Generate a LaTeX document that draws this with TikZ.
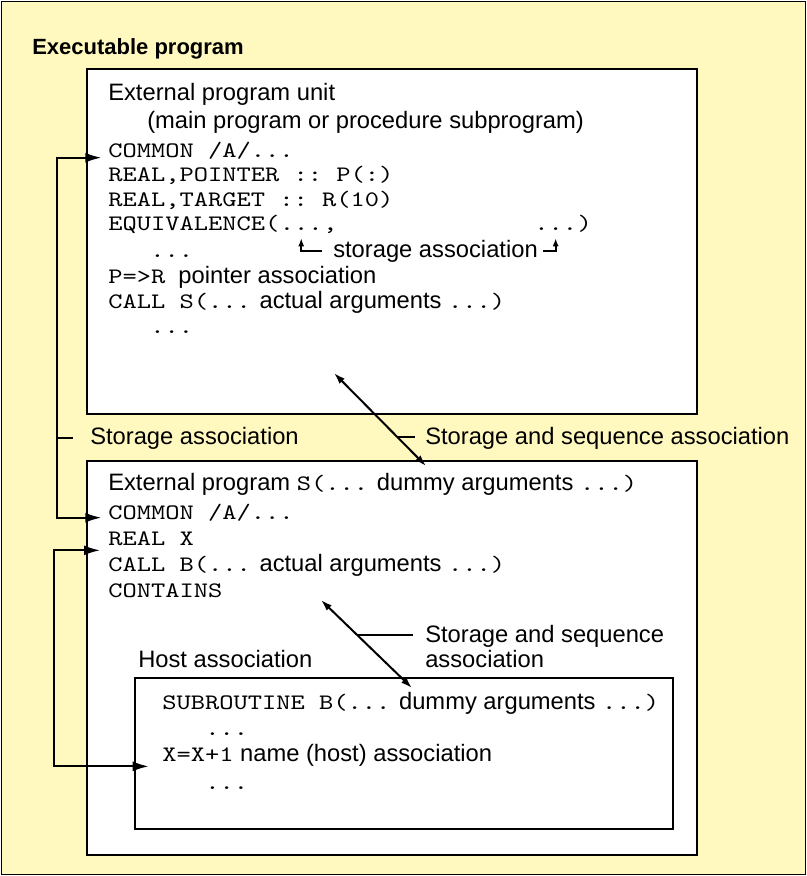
\documentclass[tikz,border=0pt]{standalone}
\usepackage{fontspec}
\setmainfont{Liberation Sans}
\setmonofont{lmmono10-regular}[Extension=.otf,Scale=0.93,FakeStretch=1.23]
\usetikzlibrary{positioning,arrows.meta}
\definecolor{paleyellow}{RGB}{255,249,191}

\begin{document}
\begin{tikzpicture}[
		x=0.75pt,y=-0.75pt,
		font=\fontsize{17.8}{19}\selectfont,
		txt/.style={anchor=base west,inner sep=0pt},
		unitbox/.style={draw,line width=0.8pt,fill=white},
		link/.style={line width=1.5pt},
		big/.tip={Latex[length=12pt,width=7.5pt]},
		mid/.tip={Latex[length=8.5pt,width=5.5pt]},
		small/.tip={Latex[length=6pt,width=4.5pt]}
		]
		\useasboundingbox (0,0) rectangle (807,876);
		\draw[line width=1.1pt,fill=paleyellow] (1.5,1.5) rectangle (805.5,874.5);
		\node[txt,font=\fontsize{16.5}{19}\selectfont\bfseries] (title) at (32,54) {Executable program};
		
		% external program unit
		\draw[unitbox] (87,69) rectangle (697,414);
		\node[txt] (ext) at (108,100) {External program unit};
		\node[txt] (main) at (147,128) {(main program or procedure subprogram)};
		\node[txt] (com1) at (108,157) {\texttt{COMMON /A/...}};
		\node[txt] (ptr) at (108,181) {\texttt{REAL,POINTER :: P(:)}};
		\node[txt] (tgt) at (108,206) {\texttt{REAL,TARGET :: R(10)}};
		\node[txt] (eqv) at (108,230) {\texttt{EQUIVALENCE(}};
		\node[txt,right=0pt of eqv.base east,anchor=base west] (eqa) {\texttt{...}};
		\node[txt,right=0pt of eqa.base east,anchor=base west] (eqcomma) {\texttt{,}};
		\node[txt] (eqb) at (534,230) {\texttt{...}};
		\node[txt,right=0pt of eqb.base east,anchor=base west] (eqclose) {\texttt{)}};
		\node[txt] (dots1) at (150,257) {\texttt{...}};
		\node[txt] (stor) at (333,257) {storage association};
		\node[txt] (pr) at (108,283) {\texttt{P=>R} \ pointer association};
		\node[txt] (calls) at (108,308) {\texttt{CALL S(...} actual arguments \texttt{...)}};
		\node[txt] (dots2) at (150,333) {\texttt{...}};
		\draw[link,-small,shorten <=8pt,shorten >=6pt] (stor.west) -| (eqa.south);
		\draw[link,-small,shorten <=4pt,shorten >=6pt] (stor.east) -| (eqb.south);
		
		% external subprogram S
		\draw[unitbox] (87,461) rectangle (697,855);
		\node[txt] (exts) at (108,490) {External program \texttt{S(...} dummy arguments \texttt{...)}};
		\node[txt] (com2) at (108,519) {\texttt{COMMON /A/...}};
		\node[txt] (realx) at (108,545) {\texttt{REAL X}};
		\node[txt] (callb) at (108,571) {\texttt{CALL B(...} actual arguments \texttt{...)}};
		\node[txt] (cont) at (108,597) {\texttt{CONTAINS}};
		
		% internal subroutine B
		\node[txt] (host) at (138,667) {Host association};
		\draw[unitbox] (135,678) rectangle (673,829);
		\node[txt] (sub) at (162,709) {\texttt{SUBROUTINE B(...} dummy arguments \texttt{...)}};
		\node[txt] (dots3) at (205,735) {\texttt{...}};
		\node[txt] (incx) at (162,761) {\texttt{X=X+1} name (host) association};
		\node[txt] (dots4) at (205,789) {\texttt{...}};
		
		% association labels
		\node[txt] (sa) at (90,444) {Storage association};
		\node[txt] (ssa) at (425,444) {Storage and sequence association};
		\node[txt] (ssb) at (425,642) {Storage and sequence};
		\node[txt] (ssb2) at (425,667) {association};
		
		% storage association (common)
		\coordinate (lft1) at (57,438);
		\draw[link,big-big,shorten <=5pt,shorten >=5pt] ([yshift=-0.5pt]com1.base west) -| (lft1) |- ([yshift=1pt]com2.base west);
		\draw[link,shorten >=12.5pt] (lft1) -- (lft1 -| sa.west);
		
		% host association
		\coordinate (lft2) at (54,660);
		\draw[link,big-big,shorten <=6pt,shorten >=10pt] ([yshift=-4pt]realx.base west) -| (lft2) |- ([yshift=-4pt]incx.base west);
		
		% argument association
		\coordinate (actS) at (334,373);
		\coordinate (dumS) at (426,466);
		\draw[link,mid-mid] (actS) -- (dumS) coordinate[pos=0.69] (tickA);
		\draw[link,shorten >=7.5pt] (tickA) -- (tickA -| ssa.west);
		\coordinate (actB) at (321,600);
		\coordinate (dumB) at (412,688);
		\draw[link,mid-mid] (actB) -- (dumB) coordinate[pos=0.4] (tickB);
		\draw[link,shorten >=9pt] (tickB) -- (tickB -| ssb.west);
	\end{tikzpicture}
\end{document}
